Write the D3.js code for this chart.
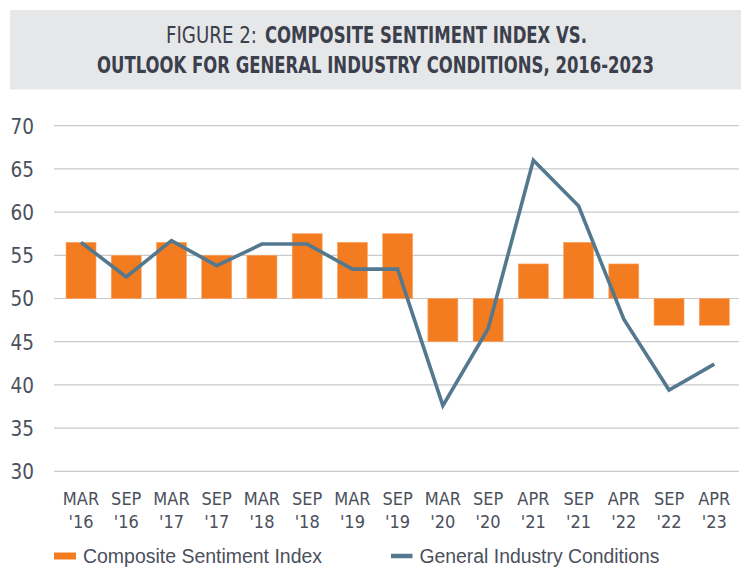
<!DOCTYPE html>
<html><head><meta charset="utf-8">
<script src="https://cdn.jsdelivr.net/npm/d3@7"></script>
<style>
html,body{margin:0;padding:0;background:#fff;}
svg{display:block;}
</style></head>
<body>
<svg id="chart" width="750" height="579"></svg>
<script>
const months = ["MAR","SEP","MAR","SEP","MAR","SEP","MAR","SEP","MAR","SEP","APR","SEP","APR","SEP","APR"];
const years = ["'16","'16","'17","'17","'18","'18","'19","'19","'20","'20","'21","'21","'22","'22","'23"];
const compositeSentiment = [56.5,55,56.5,55,55,57.5,56.5,57.5,45,45,54,56.5,54,46.9,46.9];
const generalIndustry = [56.5,52.5,56.7,53.8,56.3,56.3,53.4,53.4,37.6,46.5,66.0,60.7,47.6,39.4,42.4];
const yTicks = [30,35,40,45,50,55,60,65,70];
const titleLight = "FIGURE 2:";
const titleBold1 = "COMPOSITE SENTIMENT INDEX VS.";
const titleBold2 = "OUTLOOK FOR GENERAL INDUSTRY CONDITIONS, 2016-2023";
const legendLabels = ["Composite Sentiment Index","General Industry Conditions"];

const categories = months.map((m,i)=>m+" "+years[i]);
const svg = d3.select("#chart");
const condensed = "'Liberation Sans Narrow','DejaVu Sans Condensed','Roboto Condensed',sans-serif";
const textCol = "#4b505b";

// title box
svg.append("rect").attr("x",10).attr("y",10).attr("width",731).attr("height",79.5).attr("fill","#e6e7e9");
const tcol = "#3b404c";
svg.append("text").attr("x",166).attr("y",42.5).attr("font-family",condensed).attr("font-size",23.5)
  .attr("fill",tcol).attr("textLength",91).attr("lengthAdjust","spacingAndGlyphs").text(titleLight);
svg.append("text").attr("x",265).attr("y",42.5).attr("font-family",condensed).attr("font-size",23.5)
  .attr("font-weight","bold").attr("fill",tcol).attr("textLength",322).attr("lengthAdjust","spacingAndGlyphs").text(titleBold1);
svg.append("text").attr("x",97).attr("y",73).attr("font-family",condensed).attr("font-size",23.5)
  .attr("font-weight","bold").attr("fill",tcol).attr("textLength",557).attr("lengthAdjust","spacingAndGlyphs").text(titleBold2);

// scales
const y = d3.scaleLinear().domain([30,70]).range([471.3,125.7]);
const x = d3.scaleBand().domain(categories).range([58.4,736.9]).paddingInner(0.337).paddingOuter(0.1685);

// gridlines
svg.append("g").selectAll("line").data(yTicks).join("line")
  .attr("x1",54).attr("x2",739).attr("y1",d=>y(d)).attr("y2",d=>y(d))
  .attr("stroke","#c9cace").attr("stroke-width",1.2);

// y axis
const yAxis = svg.append("g").attr("transform","translate(34,0)")
  .call(d3.axisLeft(y).tickValues(yTicks).tickSize(0).tickPadding(0));
yAxis.select(".domain").remove();
yAxis.selectAll("text").attr("font-family",condensed).attr("font-size",20.5).attr("fill",textCol).attr("dy","0.36em");

// x axis
const xAxis = svg.append("g").attr("transform","translate(0,480)")
  .call(d3.axisBottom(x).tickSize(0).tickPadding(0).tickFormat(()=>""));
xAxis.select(".domain").remove();
xAxis.selectAll(".tick").each(function(d,i){
  const t = d3.select(this).select("text").attr("font-family",condensed).attr("font-size",18)
    .attr("fill",textCol).attr("text-anchor","middle").attr("y",0).attr("dy",null);
  t.append("tspan").attr("x",0).attr("y",24.5).text(months[i]);
  t.append("tspan").attr("x",0).attr("y",48).text(years[i]);
});

// bars
svg.append("g").selectAll("rect").data(compositeSentiment).join("rect")
  .attr("x",(d,i)=>x(categories[i])).attr("width",x.bandwidth())
  .attr("y",d=>Math.min(y(d),y(50))).attr("height",d=>Math.abs(y(d)-y(50)))
  .attr("fill","#f47c20").attr("stroke","#f8a467").attr("stroke-width",0.6);

// line
const line = d3.line().x((d,i)=>x(categories[i])+x.bandwidth()/2).y(d=>y(d));
svg.append("path").datum(generalIndustry).attr("d",line).attr("fill","none")
  .attr("stroke","#54798f").attr("stroke-width",3.6).attr("stroke-linejoin","miter");

// legend
const legendFont = "'Liberation Sans','Arial',sans-serif";
svg.append("rect").attr("x",54).attr("y",552.5).attr("width",22).attr("height",7).attr("fill","#f47c20");
svg.append("text").attr("x",83).attr("y",563).attr("font-family",legendFont).attr("font-size",19.5)
  .attr("fill",textCol).attr("textLength",239).attr("lengthAdjust","spacingAndGlyphs").text(legendLabels[0]);
svg.append("line").attr("x1",391).attr("x2",412.5).attr("y1",556).attr("y2",556).attr("stroke","#54798f").attr("stroke-width",4.5);
svg.append("text").attr("x",419.5).attr("y",563).attr("font-family",legendFont).attr("font-size",19.5)
  .attr("fill",textCol).attr("textLength",240).attr("lengthAdjust","spacingAndGlyphs").text(legendLabels[1]);
</script>
</body></html>
